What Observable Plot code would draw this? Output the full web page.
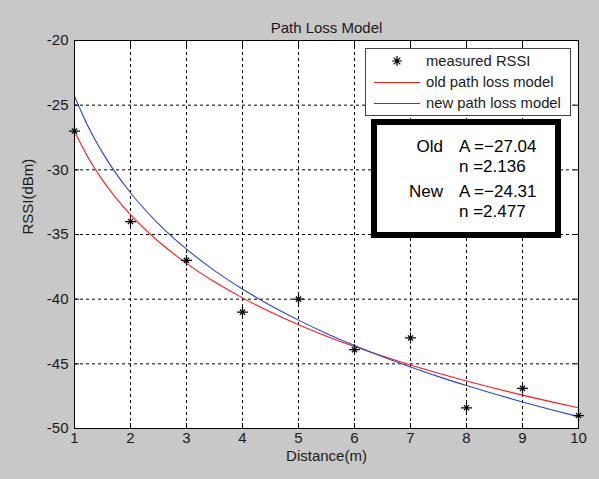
<!DOCTYPE html>
<html><head><meta charset="utf-8">
<script src="https://cdn.jsdelivr.net/npm/d3@7"></script>
<script src="https://cdn.jsdelivr.net/npm/@observablehq/plot@0.6"></script>
<style>html,body{margin:0;padding:0;background:#c8c8c8;} svg{display:block}</style>
</head><body><div id="chart"></div>
<script>
// ---- data ----
const distance = [1, 2, 3, 4, 5, 6, 7, 8, 9, 10];
const measuredRSSI = [-27, -34, -37, -41, -40, -43.9, -43, -48.4, -46.9, -49];
const modelDistance = [1, 1.25, 1.5, 1.75, 2, 2.5, 3, 3.5, 4, 4.5, 5, 5.5, 6, 6.5, 7, 7.5, 8, 8.5, 9, 9.5, 10];
const oldModel = [-27.04, -29.11, -30.80, -32.23, -33.47, -35.54, -37.23, -38.66, -39.90, -40.99, -41.97, -42.86, -43.66, -44.40, -45.09, -45.73, -46.33, -46.89, -47.42, -47.92, -48.40];
const newModel = [-24.31, -26.71, -28.67, -30.33, -31.77, -34.17, -36.13, -37.79, -39.22, -40.49, -41.62, -42.65, -43.59, -44.45, -45.24, -45.99, -46.68, -47.33, -47.95, -48.53, -49.08];
const xTicks = [1, 2, 3, 4, 5, 6, 7, 8, 9, 10];
const yTicks = [-50, -45, -40, -35, -30, -25, -20];
const legendLabels = ["measured RSSI", "old path loss model", "new path loss model"];
const boxRows = [["Old", "A =\u221227.04"], ["", "n =2.136"], ["New", "A =\u221224.31"], ["", "n =2.477"]];
const titleText = "Path Loss Model";
const xLabel = "Distance(m)";
const yLabel = "RSSI(dBm)";

const measured = distance.map((d, i) => ({d, v: measuredRSSI[i]}));
const oldRows = modelDistance.map((d, i) => ({d, v: oldModel[i]}));
const newRows = modelDistance.map((d, i) => ({d, v: newModel[i]}));

const RED = "#ff1a1a", BLUE = "#2a46c8";
const FONT = "'Liberation Sans', Arial, sans-serif";

const chart = Plot.plot({
  width: 599, height: 479,
  marginLeft: 74, marginRight: 21, marginTop: 40, marginBottom: 51,
  style: {background: "#c8c8c8", fontFamily: FONT, fontSize: "15px", color: "#1a1a1a"},
  x: {domain: [1, 10]},
  y: {domain: [-50, -20]},
  marks: [
    Plot.frame({fill: "white", stroke: null}),
    Plot.gridX(xTicks.slice(1, -1), {stroke: "#000", strokeOpacity: 1, strokeDasharray: "3,3"}),
    Plot.gridY(yTicks.slice(1, -1), {stroke: "#000", strokeOpacity: 1, strokeDasharray: "3,3"}),
    Plot.line(oldRows, {x: "d", y: "v", stroke: RED, strokeWidth: 1.1, curve: "monotone-x"}),
    Plot.line(newRows, {x: "d", y: "v", stroke: BLUE, strokeWidth: 1.1, curve: "monotone-x"}),
    Plot.dot(measured, {x: "d", y: "v", symbol: "plus", r: 3.6, stroke: "#000", strokeWidth: 1.2}),
    Plot.dot(measured, {x: "d", y: "v", symbol: "times", r: 2.5, stroke: "#000", strokeWidth: 1.2}),
    Plot.dot(measured, {x: "d", y: "v", r: 1.6, fill: "#000"}),
    Plot.axisX(xTicks, {anchor: "bottom", tickSize: -5, tickPadding: 9, fontSize: 15, tickFormat: d => String(d), label: null, stroke: "#000"}),
    Plot.axisX(xTicks, {anchor: "top", tickSize: -5, tickFormat: () => "", label: null, stroke: "#000"}),
    Plot.axisY(yTicks, {anchor: "left", tickSize: -5, tickPadding: 11, fontSize: 15, tickFormat: d => String(d), label: null, stroke: "#000"}),
    Plot.axisY(yTicks, {anchor: "right", tickSize: -5, tickFormat: () => "", label: null, stroke: "#000"}),
    Plot.frame({stroke: "#000", strokeWidth: 1}),
    Plot.text([titleText], {frameAnchor: "top", dy: -18, fontSize: 15, fill: "#1a1a1a"}),
    Plot.text([xLabel], {frameAnchor: "bottom", dy: 32, fontSize: 15, fill: "#1a1a1a"}),
    Plot.text([yLabel], {frameAnchor: "left", dx: -46, rotate: -90, fontSize: 15, fill: "#1a1a1a"})
  ]
});
document.getElementById("chart").appendChild(chart);

// ---- legend ----
const svg = d3.select(chart);
const lg = svg.append("g").attr("text-anchor", "start");
lg.append("rect").attr("x", 365.5).attr("y", 48.5).attr("width", 205).attr("height", 67)
  .attr("fill", "white").attr("stroke", "#444").attr("stroke-width", 1);
const rowY = [61, 82, 103];
// star marker
const sx = 397, sy = rowY[0];
lg.append("path").attr("d", `M${sx - 5},${sy}H${sx + 5}M${sx},${sy - 5}V${sy + 5}M${sx - 3.3},${sy - 3.3}L${sx + 3.3},${sy + 3.3}M${sx - 3.3},${sy + 3.3}L${sx + 3.3},${sy - 3.3}`)
  .attr("stroke", "#000").attr("stroke-width", 1.2);
lg.append("circle").attr("cx", sx).attr("cy", sy).attr("r", 1.6).attr("fill", "#000");
lg.append("line").attr("x1", 374).attr("x2", 420).attr("y1", rowY[1] + 0.5).attr("y2", rowY[1] + 0.5).attr("stroke", RED);
lg.append("line").attr("x1", 374).attr("x2", 420).attr("y1", rowY[2] + 0.5).attr("y2", rowY[2] + 0.5).attr("stroke", BLUE);
legendLabels.forEach((t, i) => {
  lg.append("text").attr("x", 426).attr("y", rowY[i]).attr("dy", "0.35em").attr("text-anchor", "start")
    .attr("font-family", FONT).attr("font-size", 14.8).attr("fill", "#1a1a1a").text(t);
});

// ---- parameter box ----
const bg = svg.append("g");
bg.append("rect").attr("x", 374).attr("y", 122).attr("width", 184).attr("height", 113)
  .attr("fill", "white").attr("stroke", "#000").attr("stroke-width", 6);
const bY = [152, 172, 197, 217];
boxRows.forEach((r, i) => {
  if (r[0]) bg.append("text").attr("x", 443).attr("y", bY[i]).attr("text-anchor", "end")
    .attr("font-family", FONT).attr("font-size", 17).attr("fill", "#000").text(r[0]);
  bg.append("text").attr("x", 459).attr("y", bY[i]).attr("text-anchor", "start")
    .attr("font-family", FONT).attr("font-size", 17).attr("fill", "#000").text(r[1]);
});
</script>
</body></html>
